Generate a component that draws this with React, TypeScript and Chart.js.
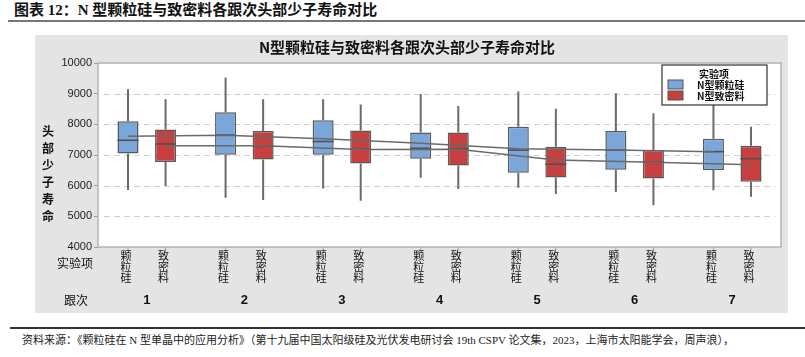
import React, { useEffect, useRef } from "react";
import { Chart, registerables } from "chart.js";

Chart.register(...registerables);

const categories = ["1", "2", "3", "4", "5", "6", "7"];
const seriesNames = ["N型颗粒硅", "N型致密料"];
const shortLabels = ["颗粒硅", "致密料"];

const blueMin = [5860, 5610, 5910, 6260, 5930, 5790, 5850];
const blueQ1 = [7050, 7010, 7010, 6880, 6420, 6520, 6510];
const blueMedian = [7480, 7650, 7440, 7220, 7160, 7160, 7110];
const blueQ3 = [8100, 8390, 8130, 7730, 7920, 7780, 7530];
const blueMax = [9140, 9530, 8820, 8990, 9070, 9010, 8950];
const blueMean = [7610, 7640, 7530, 7380, 7200, 7160, 7110];

const redMin = [5990, 5530, 5510, 5890, 5730, 5360, 5640];
const redQ1 = [6770, 6850, 6720, 6660, 6270, 6230, 6130];
const redMedian = [7360, 7290, 7190, 7200, 6700, 6770, 6880];
const redQ3 = [7830, 7780, 7800, 7730, 7270, 7160, 7300];
const redMax = [8820, 8820, 8650, 8600, 8510, 8360, 7920];
const redMean = [7300, 7300, 7180, 7190, 6840, 6760, 6680];

const yTicks = [4000, 5000, 6000, 7000, 8000, 9000, 10000];

const BLUE = "#7aa6da";
const RED = "#c73f3e";
const CJK = '"Noto Sans CJK SC", sans-serif';

const stats = [
  { min: blueMin, q1: blueQ1, med: blueMedian, q3: blueQ3, max: blueMax, mean: blueMean },
  { min: redMin, q1: redQ1, med: redMedian, q3: redQ3, max: redMax, mean: redMean },
];

const boxPlugin = {
  id: "boxExtras",
  beforeDraw(chart: any) {
    const { ctx, chartArea: a } = chart;
    ctx.save();
    ctx.fillStyle = "#e4e4e4";
    ctx.fillRect(0, 0, chart.width, chart.height);
    ctx.fillStyle = "#ffffff";
    ctx.fillRect(a.left, a.top, a.right - a.left, a.bottom - a.top);
    ctx.restore();
  },
  beforeDatasetsDraw(chart: any) {
    const { ctx, chartArea: a } = chart;
    const y = chart.scales.y;
    ctx.save();
    // dashed grid lines
    ctx.strokeStyle = "#cfcfcf";
    ctx.lineWidth = 1;
    ctx.setLineDash([6, 4]);
    yTicks.forEach((v) => {
      if (v === 4000 || v === 10000) return;
      const py = Math.round(y.getPixelForValue(v)) + 0.5;
      ctx.beginPath();
      ctx.moveTo(a.left + 6, py);
      ctx.lineTo(a.right - 6, py);
      ctx.stroke();
    });
    ctx.setLineDash([]);
    ctx.strokeStyle = "#b3b3b3";
    ctx.lineWidth = 1.5;
    ctx.strokeRect(a.left, a.top, a.right - a.left, a.bottom - a.top);
    // whiskers
    ctx.strokeStyle = "#6b6b6b";
    ctx.lineWidth = 2;
    stats.forEach((s, di) => {
      const meta = chart.getDatasetMeta(di);
      meta.data.forEach((bar: any, j: number) => {
        ctx.beginPath();
        ctx.moveTo(bar.x, y.getPixelForValue(s.max[j]));
        ctx.lineTo(bar.x, y.getPixelForValue(s.q3[j]));
        ctx.moveTo(bar.x, y.getPixelForValue(s.q1[j]));
        ctx.lineTo(bar.x, y.getPixelForValue(s.min[j]));
        ctx.stroke();
        ctx.save();
        ctx.strokeStyle = "#aaaaaa";
        ctx.lineWidth = 1;
        ctx.beginPath();
        ctx.moveTo(bar.x, a.bottom);
        ctx.lineTo(bar.x, a.bottom + 3);
        ctx.stroke();
        ctx.restore();
      });
    });
    ctx.restore();
  },
  afterDatasetsDraw(chart: any) {
    const { ctx } = chart;
    const y = chart.scales.y;
    ctx.save();
    ctx.strokeStyle = "#505050";
    ctx.lineWidth = 1.6;
    stats.forEach((s, di) => {
      const meta = chart.getDatasetMeta(di);
      meta.data.forEach((bar: any, j: number) => {
        const py = y.getPixelForValue(s.med[j]);
        ctx.beginPath();
        ctx.moveTo(bar.x - bar.width / 2, py);
        ctx.lineTo(bar.x + bar.width / 2, py);
        ctx.stroke();
      });
    });
    ctx.strokeStyle = "#6a6a6a";
    ctx.lineWidth = 1.5;
    stats.forEach((s, di) => {
      const meta = chart.getDatasetMeta(di);
      ctx.beginPath();
      meta.data.forEach((bar: any, j: number) => {
        const py = y.getPixelForValue(s.mean[j]);
        if (j === 0) ctx.moveTo(bar.x, py);
        else ctx.lineTo(bar.x, py);
      });
      ctx.stroke();
    });
    ctx.restore();
  },
  afterDraw(chart: any) {
    const { ctx, chartArea: a } = chart;
    const x = chart.scales.x;
    ctx.save();
    ctx.fillStyle = "#111111";
    ctx.font = `bold 15px ${CJK}`;
    ctx.textAlign = "center";
    ctx.textBaseline = "middle";
    ctx.fillText("N型颗粒硅与致密料各跟次头部少子寿命对比", 372, 12);
    ctx.font = `bold 12px ${CJK}`;
    const yTitle = "头部少子寿命";
    for (let i = 0; i < yTitle.length; i++) {
      ctx.fillText(yTitle[i], 13, 96 + i * 17);
    }
    ctx.font = `11px ${CJK}`;
    stats.forEach((_s, di) => {
      const meta = chart.getDatasetMeta(di);
      const lbl = shortLabels[di];
      meta.data.forEach((bar: any) => {
        for (let k = 0; k < lbl.length; k++) {
          ctx.fillText(lbl[k], bar.x - 2, a.bottom + 9 + k * 11);
        }
      });
    });
    ctx.font = `12px ${CJK}`;
    ctx.fillText("实验项", 40, a.bottom + 16);
    ctx.fillText("跟次", 41, a.bottom + 53);
    ctx.font = "bold 13px Arial, 'Liberation Sans', sans-serif";
    categories.forEach((c, j) => {
      ctx.fillText(c, x.getPixelForValue(j), a.bottom + 53);
    });
    const lx = 627, ly = 30, lw = 105, lh = 40;
    ctx.fillStyle = "#ffffff";
    ctx.fillRect(lx, ly, lw, lh);
    ctx.strokeStyle = "#333333";
    ctx.lineWidth = 1.2;
    ctx.strokeRect(lx, ly, lw, lh);
    ctx.fillStyle = "#111111";
    ctx.font = `bold 10px ${CJK}`;
    ctx.textAlign = "center";
    ctx.fillText("实验项", 679, 39);
    const colors = [BLUE, RED];
    seriesNames.forEach((n, i) => {
      const sy = 45 + i * 11;
      ctx.fillStyle = colors[i];
      ctx.fillRect(633, sy, 15, 9);
      ctx.strokeStyle = "#555555";
      ctx.lineWidth = 1;
      ctx.strokeRect(633, sy, 15, 9);
      ctx.fillStyle = "#111111";
      ctx.textAlign = "left";
      ctx.fillText(n, 662, sy + 5);
    });
    ctx.restore();
  },
};

export default function App() {
  const ref = useRef<HTMLCanvasElement | null>(null);
  useEffect(() => {
    if (!ref.current) return;
    const chart = new Chart(ref.current, {
      type: "bar",
      data: {
        labels: categories,
        datasets: [
          {
            label: seriesNames[0],
            data: blueQ1.map((v, i) => [v, blueQ3[i]]) as any,
            backgroundColor: BLUE,
            borderColor: "#5a5a5a",
            borderWidth: 1.5,
            borderSkipped: false,
          },
          {
            label: seriesNames[1],
            data: redQ1.map((v, i) => [v, redQ3[i]]) as any,
            backgroundColor: RED,
            borderColor: "#5a5a5a",
            borderWidth: 1.5,
            borderSkipped: false,
          },
        ],
      },
      options: {
        responsive: false,
        animation: false,
        devicePixelRatio: 1,
        categoryPercentage: 0.77,
        barPercentage: 0.56,
        layout: { padding: { top: 28, right: 7, left: 0, bottom: 0 } },
        plugins: { legend: { display: false }, tooltip: { enabled: false }, title: { display: false } },
        scales: {
          x: {
            grid: { display: false },
            border: { display: false },
            ticks: { display: false },
            afterFit(scale: any) {
              scale.height = 66;
            },
          },
          y: {
            min: 4000,
            max: 10000,
            afterBuildTicks(scale: any) {
              scale.ticks = yTicks.map((v) => ({ value: v }));
            },
            afterFit(scale: any) {
              scale.width = 63;
            },
            ticks: {
              color: "#222222",
              padding: 2,
              font: { family: "Arial, 'Liberation Sans', sans-serif", size: 11 },
              callback: (v: any) => String(v),
            },
            grid: {
              drawOnChartArea: false,
              tickColor: "#9a9a9a",
              tickLength: 4,
              lineWidth: 1,
            },
            border: { display: false },
          },
        },
      } as any,
      plugins: [boxPlugin],
    });
    return () => chart.destroy();
  }, []);

  return (
    <div
      style={{
        position: "absolute",
        left: 0,
        top: 0,
        width: 805,
        height: 357,
        background: "#ffffff",
        overflow: "hidden",
      }}
    >
      <div
        style={{
          position: "absolute",
          left: 14,
          top: 1,
          fontFamily: `"Liberation Serif", ${CJK}`,
          fontWeight: "bold",
          fontSize: 15,
          lineHeight: "18px",
          color: "#111",
          whiteSpace: "nowrap",
        }}
      >
        图表 12：N 型颗粒硅与致密料各跟次头部少子寿命对比
      </div>
      <div style={{ position: "absolute", left: 8, top: 20, width: 797, height: 2, background: "#777" }} />
      <canvas
        ref={ref}
        width={753}
        height={278}
        style={{ position: "absolute", left: 35, top: 35, width: 753, height: 278 }}
      />
      <div style={{ position: "absolute", left: 10, top: 327, width: 795, height: 2, background: "#333" }} />
      <div
        style={{
          position: "absolute",
          left: 22,
          top: 333,
          fontFamily: `"Liberation Serif", ${CJK}`,
          fontSize: 11,
          lineHeight: "14px",
          color: "#222",
          whiteSpace: "nowrap",
        }}
      >
        资料来源：《颗粒硅在 N 型单晶中的应用分析》（第十九届中国太阳级硅及光伏发电研讨会 19th CSPV 论文集，2023，上海市太阳能学会，周声浪），
      </div>
    </div>
  );
}
